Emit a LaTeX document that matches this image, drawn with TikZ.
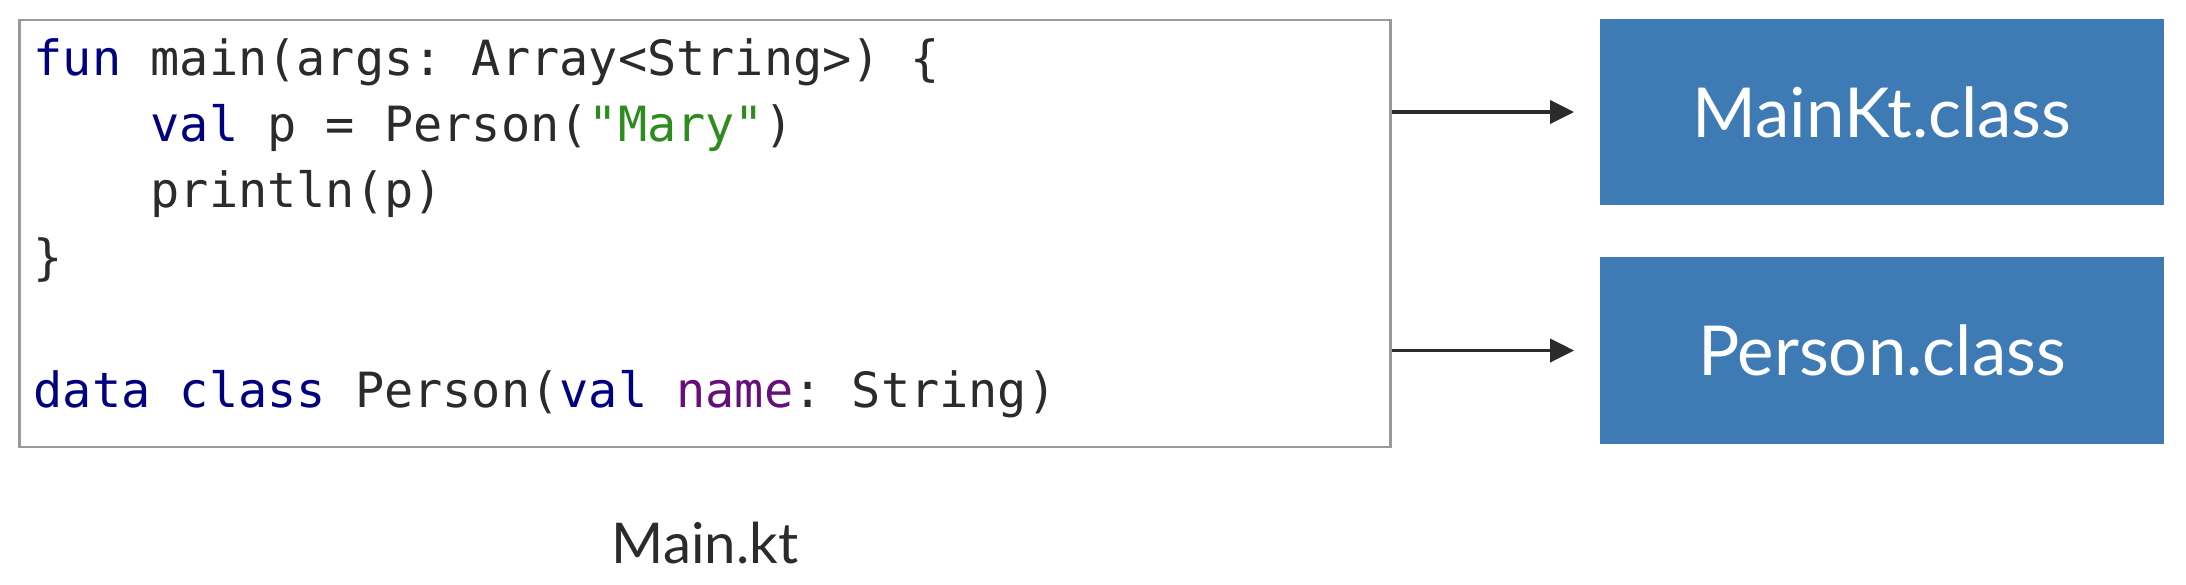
\documentclass[tikz,border=0pt]{standalone}
\usepackage{fontspec}
\setsansfont{Lato}
\setmonofont{DejaVu Sans Mono}
\usetikzlibrary{arrows.meta}

\newcommand\kwd[1]{\textcolor{cKey}{#1}}
\newcommand\strg[1]{\textcolor{cStr}{#1}}
\newcommand\prm[1]{\textcolor{cPar}{#1}}
\newcommand\ind{\hphantom{0000}}

\begin{document}
\begin{tikzpicture}[x=0.01cm, y=-0.01cm, font=\sffamily,
  codeline/.style={anchor=base west, inner sep=0pt, text=cTxt,
    font=\ttfamily\fontsize{13.8}{16}\selectfont},
  classbox/.style={fill=cBox, text=white, minimum width=5.64cm,
    minimum height=1.86cm, inner sep=0pt,
    font=\sffamily\fontsize{19.6}{22}\selectfont},
  flow/.style={-{Triangle[length=0.24cm, width=0.23cm]},
    line width=1.1pt, draw=cTxt, shorten >=0.25cm}]

% --- colors ---
\definecolor{cBox} {HTML}{3E7BB5}
\definecolor{cKey} {HTML}{000080}
\definecolor{cStr} {HTML}{2E8B1E}
\definecolor{cPar} {HTML}{660E7A}
\definecolor{cTxt} {HTML}{2B2B2B}
\definecolor{cEdge}{HTML}{9A9A9A}

\useasboundingbox (0,0) rectangle (2186,584);

% --- source file ---
\node[draw=cEdge, line width=0.7pt, minimum width=13.70cm,
      minimum height=4.27cm, inner sep=0pt] (src) at (705,233.5) {};

\foreach \ly/\code [count=\i] in
  {75/{\kwd{fun} main(args: Array<String>) \{},
   141.4/{\ind\kwd{val} p = Person(\strg{"Mary"})},
   207.8/{\ind println(p)},
   274.2/{\}},
   407/{\kwd{data} \kwd{class} Person(\kwd{val} \prm{name}: String)}}{%
  \node[codeline] (line\i) at (33,\ly) {\code};
}

\node[anchor=base, text=cTxt, font=\sffamily\fontsize{16}{18}\selectfont]
  (srcname) at (705,563) {Main.kt};

% --- compiled classes ---
\node[classbox] (mainkt) at (1882,112) {MainKt.class};
\node[classbox] (person) at (1882,350.5) {Person.class};

\draw[flow] (src.east |- mainkt.west) -- (mainkt.west);
\draw[flow] (src.east |- person.west) -- (person.west);

\end{tikzpicture}
\end{document}
